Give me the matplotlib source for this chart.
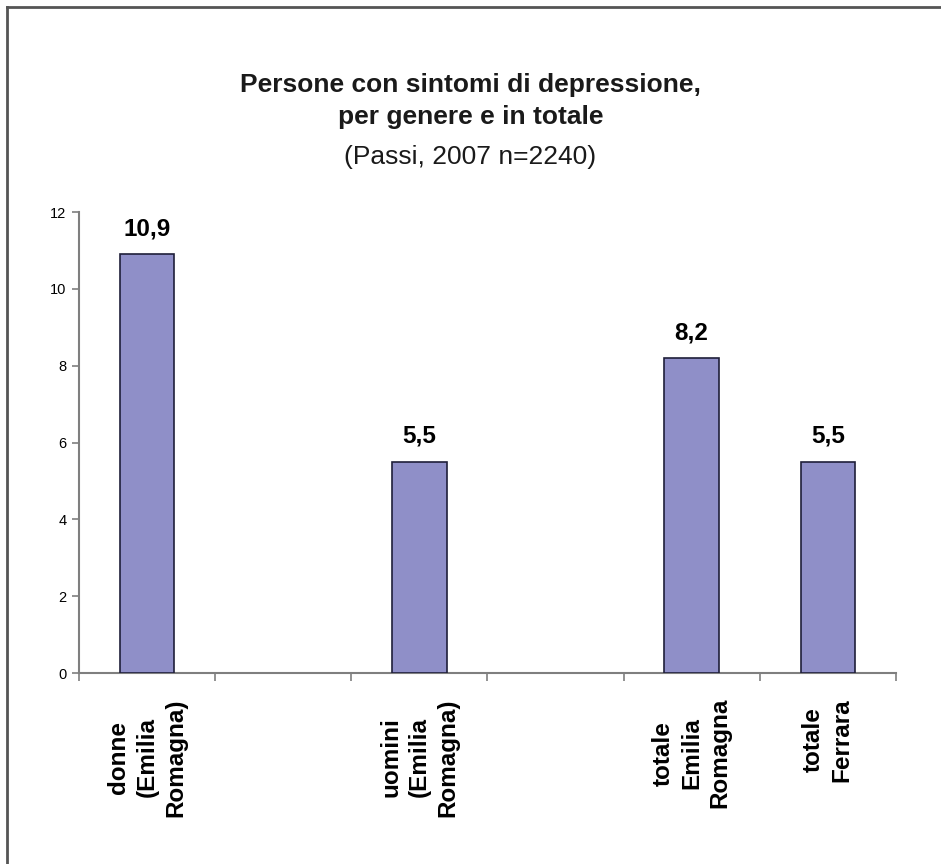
import matplotlib
matplotlib.use("Agg")
import matplotlib.pyplot as plt
from matplotlib.lines import Line2D

plt.rcParams['font.family'] = ['Liberation Sans', 'DejaVu Sans']

# Category slots (two empty spacer slots between groups)
categories = ["donne\n(Emilia\nRomagna)", "", "uomini\n(Emilia\nRomagna)", "",
              "totale\nEmilia\nRomagna", "totale\nFerrara"]
values = [10.9, None, 5.5, None, 8.2, 5.5]
value_labels = ["10,9", "", "5,5", "", "8,2", "5,5"]
y_ticks = [0, 2, 4, 6, 8, 10, 12]

title = "Persone con sintomi di depressione,\nper genere e in totale"
subtitle = "(Passi, 2007 n=2240)"

bar_color = "#8f8fc8"
edge_color = "#1f1f3a"
spine_color = "#7f7f7f"

fig = plt.figure(figsize=(9.41, 8.64), dpi=100)
ax = fig.add_axes([0.084, 0.221, 0.868, 0.5336])

xs = [i for i, v in enumerate(values) if v is not None]
hs = [v for v in values if v is not None]
ax.bar(xs, hs, width=0.4, color=bar_color, edgecolor=edge_color, linewidth=1.2, zorder=3)

for i, (v, lab) in enumerate(zip(values, value_labels)):
    if v is None:
        continue
    ax.annotate(lab, (i, v), xytext=(0, 10), textcoords="offset points",
                ha="center", va="bottom", fontsize=17.5, fontweight="bold")

ax.set_xlim(-0.5, len(categories) - 0.5)
ax.set_ylim(0, 12)
ax.set_yticks(y_ticks)
ax.set_yticklabels([str(t) for t in y_ticks], fontsize=10.5)

# Category boundaries carry the tick marks; labels sit at the slot centres
ax.set_xticks([i - 0.5 for i in range(len(categories) + 1)], minor=True)
ax.set_xticks(range(len(categories)))
ax.set_xticklabels([])
ax.tick_params(axis="x", which="major", length=0)
ax.tick_params(axis="x", which="minor", length=6, direction="out", color=spine_color, width=1.2)
ax.tick_params(axis="y", length=5, direction="out", color=spine_color, width=1.2, pad=4)

for i, lab in enumerate(categories):
    if not lab:
        continue
    ax.annotate(lab, (i, 0), xycoords="data", xytext=(0, -18), textcoords="offset points",
                rotation=90, ha="center", va="top", multialignment="center",
                fontsize=17.5, fontweight="bold", linespacing=1.3)

for s in ["top", "right"]:
    ax.spines[s].set_visible(False)
for s in ["left", "bottom"]:
    ax.spines[s].set_color(spine_color)
    ax.spines[s].set_linewidth(1.5)

fig.text(0.5, 0.883, title, ha="center", va="center", fontsize=19, fontweight="bold",
         linespacing=1.4, color="#1a1a1a")
fig.text(0.5, 0.818, subtitle, ha="center", va="center", fontsize=19, color="#1a1a1a")

# Frame lines along the top and left edges of the page
fig.add_artist(Line2D([0.0075, 1.0], [1 - 6.5 / 864, 1 - 6.5 / 864], transform=fig.transFigure,
                      color="#555555", linewidth=2))
fig.add_artist(Line2D([0.0075, 0.0075], [0.0, 1 - 6.5 / 864], transform=fig.transFigure,
                      color="#555555", linewidth=2))

fig.savefig("out.png", dpi=100)
